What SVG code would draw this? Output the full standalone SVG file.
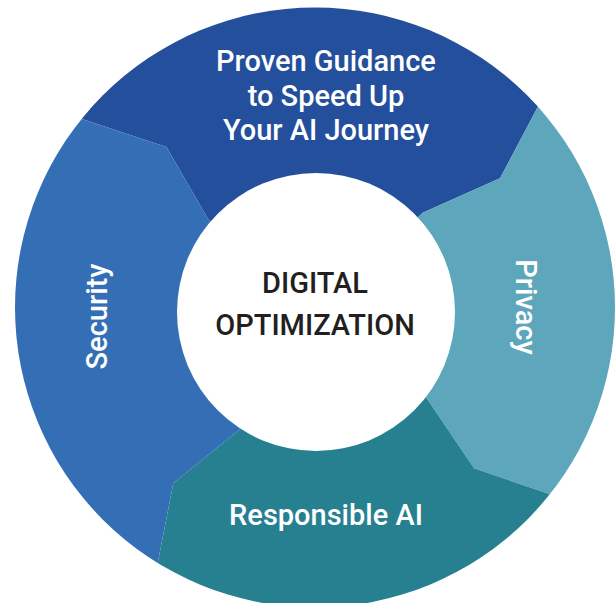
<svg xmlns="http://www.w3.org/2000/svg" width="615" height="603" viewBox="0 0 615 603">
  <defs>
    <clipPath id="ring">
      <circle cx="315" cy="307.5" r="300"/>
    </clipPath>
    <style>
      .lbl { font-family: Roboto, "Liberation Sans", sans-serif; font-size: 29px; font-weight: 500; fill: #ffffff; text-anchor: middle; }
      .ctr { font-family: Roboto, "Liberation Sans", sans-serif; font-size: 29px; font-weight: 500; fill: #231f20; text-anchor: middle; }
    </style>
  </defs>
  <rect width="615" height="603" fill="#ffffff"/>
  <g clip-path="url(#ring)">
    <g id="node-guidance">
      <polygon fill="#244f9c" points="316,312 208,219 166.5,147 83.5,119.5 50,108 50,-10 580,-10 551,82 539.3,104 500,178.3 422.7,212.7"/>
    </g>
    <g id="node-privacy">
      <polygon fill="#5ea6bb" points="316,312 422.7,212.7 500,178.3 539.3,104 551,82 580,-10 640,-10 640,620 579.3,504.3 555,496 474,468.3 426.7,398.3"/>
    </g>
    <g id="node-responsible">
      <polygon fill="#278090" points="316,312 426.7,398.3 474,468.3 555,496 579.3,504.3 640,620 152.5,620 152.5,589.5 157.3,565 173.3,483.3 240,429.3"/>
    </g>
    <g id="node-security">
      <polygon fill="#346fb6" points="316,312 240,429.3 173.3,483.3 157.3,565 152.5,589.5 152.5,620 -20,620 -20,111 58.6,111 83.5,119.5 166.5,147 208,219"/>
    </g>
  </g>
  <g id="connectors"/>
  <g id="node-center">
    <circle cx="316" cy="312" r="139" fill="#ffffff"/>
    <text class="ctr" x="315" y="293">DIGITAL</text>
    <text class="ctr" x="315" y="335">OPTIMIZATION</text>
  </g>
  <g id="labels">
    <text class="lbl" x="326" y="71">Proven Guidance</text>
    <text class="lbl" x="326" y="105.5">to Speed Up</text>
    <text class="lbl" x="326" y="140">Your AI Journey</text>
    <text class="lbl" x="326" y="525">Responsible AI</text>
    <text class="lbl" transform="translate(107,316.5) rotate(-90)">Security</text>
    <text class="lbl" transform="translate(516,307) rotate(90)">Privacy</text>
  </g>
</svg>
